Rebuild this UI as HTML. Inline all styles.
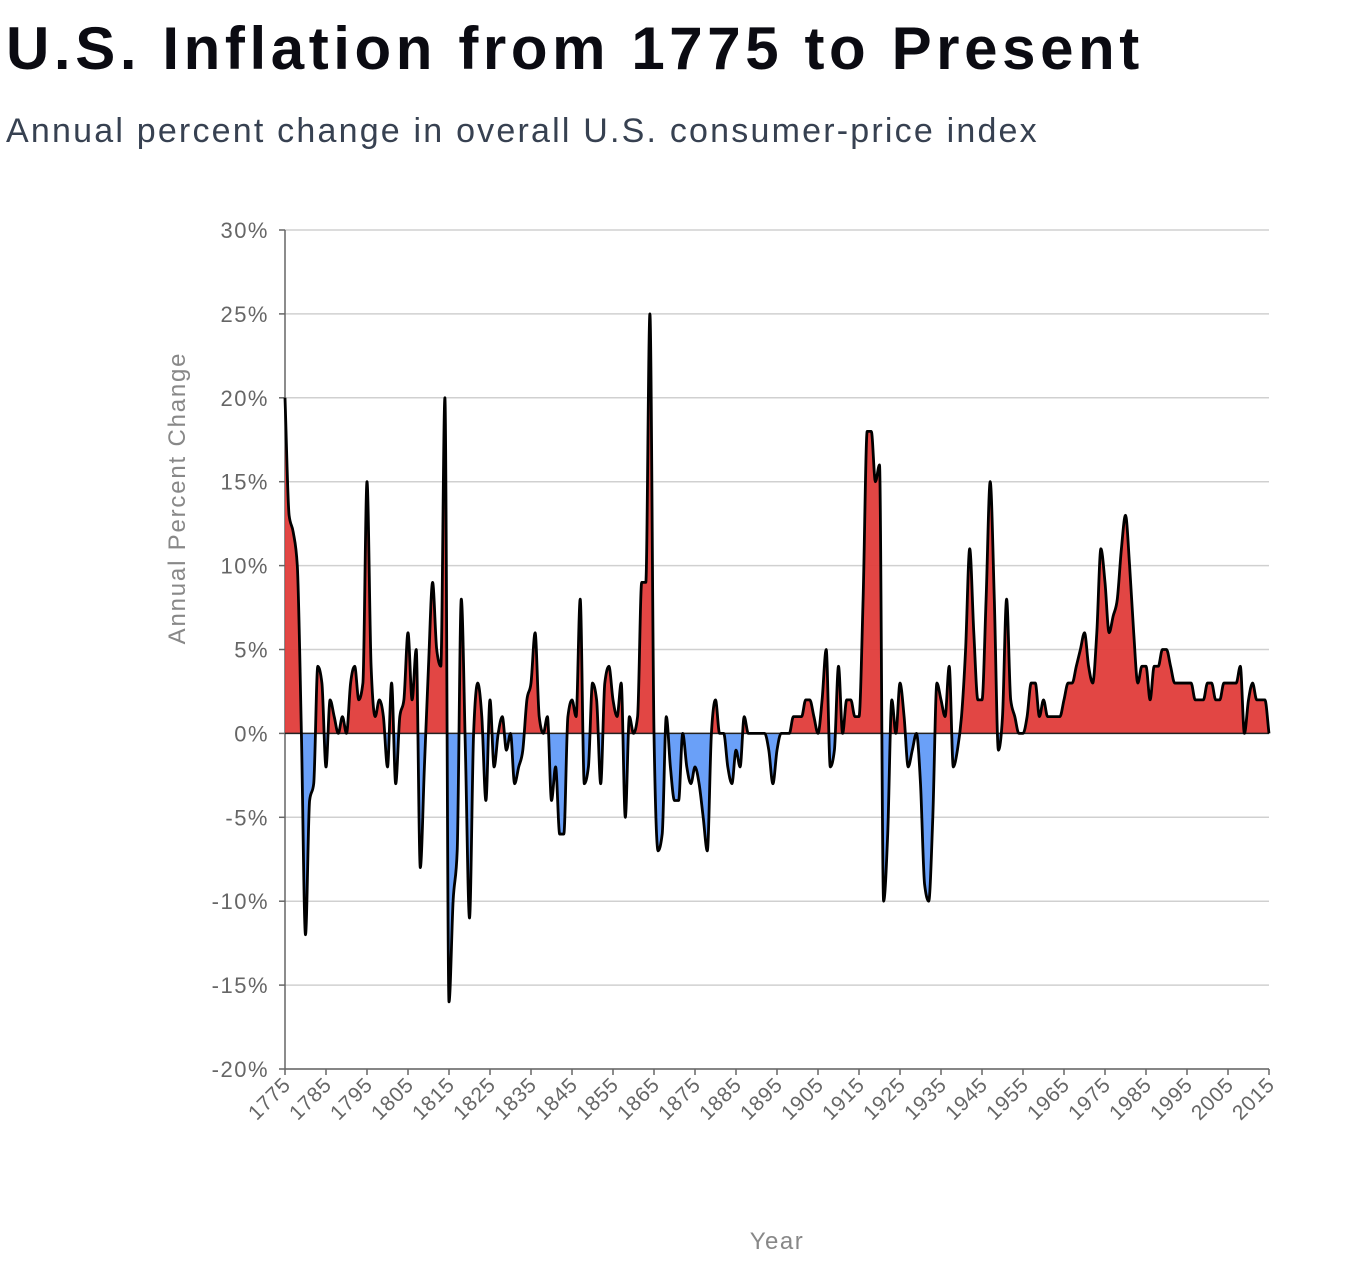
<!DOCTYPE html>
<html><head><meta charset="utf-8"><style>
body{margin:0;background:#fff;font-family:"Liberation Sans",sans-serif;}
h1{position:absolute;left:6px;top:14px;margin:0;font-size:60px;font-weight:bold;color:#0b0b12;letter-spacing:4.6px;white-space:nowrap;}
.sub{position:absolute;left:6px;top:112px;font-size:34px;color:#374151;letter-spacing:2.2px;white-space:nowrap;}
svg{position:absolute;left:0;top:0;}
</style></head><body>
<h1>U.S. Inflation from 1775 to Present</h1>
<div class="sub">Annual percent change in overall U.S. consumer-price index</div>
<svg id="chart" width="1352" height="1268"></svg>
<script>
const startYear = 1775;
const values = [20,13,12,10,0,-12,-4,-3,4,3,-2,2,1,0,1,0,3,4,2,3,15,4,1,2,1,-2,3,-3,1,2,6,2,5,-8,-2,4,9,5,4,20,-16,-10,-7,8,-1,-11,0,3,1,-4,2,-2,0,1,-1,0,-3,-2,-1,2,3,6,1,0,1,-4,-2,-6,-6,1,2,1,8,-3,-2,3,2,-3,3,4,2,1,3,-5,1,0,1,9,9,25,0,-7,-6,1,-2,-4,-4,0,-2,-3,-2,-3,-5,-7,0,2,0,0,-2,-3,-1,-2,1,0,0,0,0,0,-1,-3,-1,0,0,0,1,1,1,2,2,1,0,2,5,-2,-1,4,0,2,2,1,1,8,18,18,15,16,-10,-6,2,0,3,1,-2,-1,0,-3,-9,-10,-5,3,2,1,4,-2,-1,1,5,11,6,2,2,8,15,8,-1,1,8,2,1,0,0,1,3,3,1,2,1,1,1,1,2,3,3,4,5,6,4,3,6,11,9,6,7,8,11,13,10,6,3,4,4,2,4,4,5,5,4,3,3,3,3,3,2,2,2,3,3,2,2,3,3,3,3,4,0,2,3,2,2,2,0];
const yTicks = [30,25,20,15,10,5,0,-5,-10,-15,-20];
const xTicks = [1775,1785,1795,1805,1815,1825,1835,1845,1855,1865,1875,1885,1895,1905,1915,1925,1935,1945,1955,1965,1975,1985,1995,2005,2015];

const NS="http://www.w3.org/2000/svg";
const svg=document.getElementById('chart');
const L=285,R=1269,T=230,B=1069;
const x=yr=>L+(yr-1775)*(R-L)/240;
const y=v=>T+(30-v)*(B-T)/50;
function mk(tag,attrs,parent){const e=document.createElementNS(NS,tag);for(const k in attrs)e.setAttribute(k,attrs[k]);(parent||svg).appendChild(e);return e;}

yTicks.forEach(t=>{
  const g=mk('line',{x1:L,x2:R,y1:y(t),y2:y(t),stroke:'#d0d0d0','stroke-width':1.5});
  
  
  mk('line',{x1:L-6,x2:L,y1:y(t),y2:y(t),stroke:'#666','stroke-width':1.5});
  const tx=mk('text',{x:L-16,y:y(t)+8,'text-anchor':'end','font-size':22,'letter-spacing':1.5,fill:'#666'});
  tx.textContent=t+'%';
  
  
});
mk('line',{x1:L,x2:L,y1:T,y2:B,stroke:'#666','stroke-width':1.5});
mk('line',{x1:L,x2:R,y1:B,y2:B,stroke:'#666','stroke-width':1.5});
xTicks.forEach(t=>{
  mk('line',{x1:x(t),x2:x(t),y1:B,y2:B+6,stroke:'#666','stroke-width':1.5});
  const tx=mk('text',{x:x(t)+7,y:B+17,'text-anchor':'end','font-size':21,'letter-spacing':0.8,fill:'#666',transform:`rotate(-45 ${x(t)+7} ${B+17})`});
  tx.textContent=t;
  
  
});

const pts=values.map((v,i)=>[x(startYear+i),y(v)]);
function monotone(p){
  const n=p.length,m=new Array(n),d=[];
  for(let i=0;i<n-1;i++)d.push((p[i+1][1]-p[i][1])/(p[i+1][0]-p[i][0]));
  m[0]=d[0];m[n-1]=d[n-2];
  for(let i=1;i<n-1;i++){const a=d[i-1],b=d[i];m[i]=(a*b<=0)?0:((Math.sign(a)+Math.sign(b))*Math.min(Math.abs(a),Math.abs(b),0.5*Math.abs((a+b)/2)));}
  let s=`M${p[0][0]},${p[0][1]}`;
  for(let i=0;i<n-1;i++){const h=(p[i+1][0]-p[i][0])/3;
    s+=`C${p[i][0]+h},${p[i][1]+m[i]*h} ${p[i+1][0]-h},${p[i+1][1]-m[i+1]*h} ${p[i+1][0]},${p[i+1][1]}`;}
  return s;
}
const line=monotone(pts);
const y0=y(0);
const area=line+`L${x(2015)},${y0}L${x(1775)},${y0}Z`;
const defs=mk('defs',{});
const cp1=mk('clipPath',{id:'above'},defs);mk('rect',{x:L,y:T-50,width:R-L,height:y0-T+50},cp1);
const cp2=mk('clipPath',{id:'below'},defs);mk('rect',{x:L,y:y0,width:R-L,height:B-y0+50},cp2);
const a1=mk('path',{d:area,fill:'#e03c3a','fill-opacity':0.95,'clip-path':'url(#above)'});


const a2=mk('path',{d:area,fill:'#6aa0f8','clip-path':'url(#below)'});


mk('line',{x1:L,x2:R,y1:y0,y2:y0,stroke:'#222','stroke-width':1.5});
const ln=mk('path',{d:line,fill:'none',stroke:'#000','stroke-width':2.8,'stroke-linejoin':'round'});



const yl=mk('text',{x:185,y:498,'text-anchor':'middle','font-size':24,'letter-spacing':1.8,fill:'#888',transform:'rotate(-90 185 498)'});
yl.textContent='Annual Percent Change';


const xl=mk('text',{x:777,y:1249,'text-anchor':'middle','font-size':24,'letter-spacing':1.5,fill:'#888'});
xl.textContent='Year';


</script>
</body></html>
